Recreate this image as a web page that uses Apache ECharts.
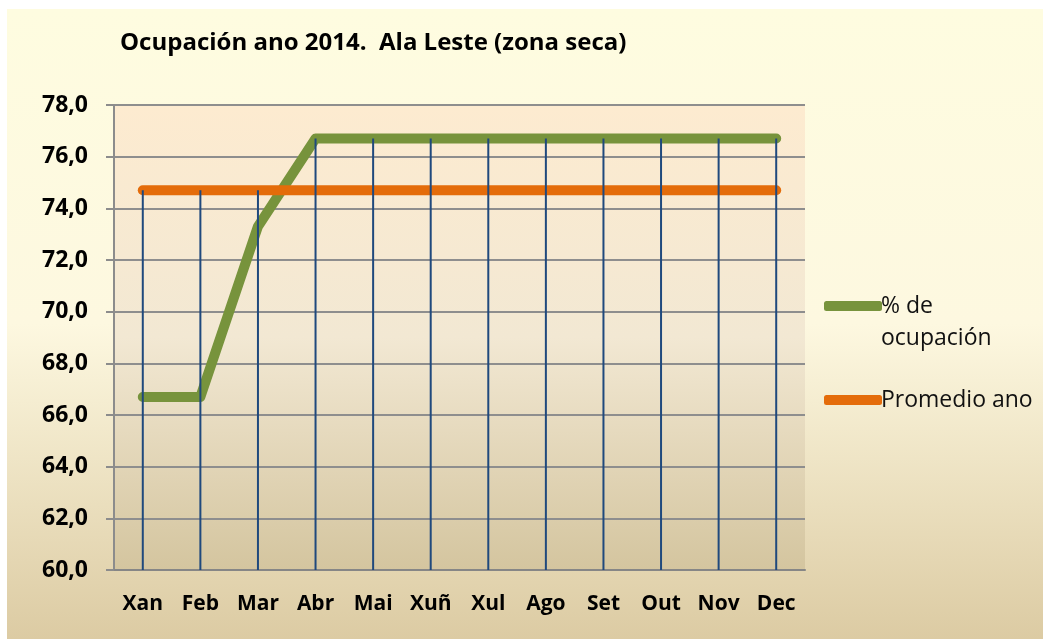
<!DOCTYPE html>
<html>
<head>
<meta charset="utf-8">
<script src="https://cdn.jsdelivr.net/npm/echarts@6/dist/echarts.min.js"></script>
<style>
  html, body { margin: 0; padding: 0; background: #ffffff; }
  #chart { width: 1043px; height: 639px; }
</style>
</head>
<body>
<div id="chart"></div>
<script>
const titleText = 'Ocupación ano 2014.  Ala Leste (zona seca)';
const months = ['Xan', 'Feb', 'Mar', 'Abr', 'Mai', 'Xuñ', 'Xul', 'Ago', 'Set', 'Out', 'Nov', 'Dec'];
const ocupacion = [66.7, 66.7, 73.3, 76.7, 76.7, 76.7, 76.7, 76.7, 76.7, 76.7, 76.7, 76.7];
const promedio = [74.7, 74.7, 74.7, 74.7, 74.7, 74.7, 74.7, 74.7, 74.7, 74.7, 74.7, 74.7];
const seriesNames = ['% de ocupación', 'Promedio ano'];
const yMin = 60, yMax = 78, yStep = 2;

// drop lines: from the highest point of each category down to the axis
const dropTop = months.map((_, i) => Math.max(ocupacion[i], promedio[i]));

const FONT = 'Open Sans';
const chart = echarts.init(document.getElementById('chart'), null, { renderer: 'canvas' });

const option = {
  backgroundColor: 'transparent',
  animation: false,
  graphic: [{
    type: 'rect',
    z: -10,
    silent: true,
    shape: { x: 7, y: 9, width: 1036, height: 630 },
    style: {
      fill: new echarts.graphic.LinearGradient(0, 0, 0, 1, [
        { offset: 0, color: '#FEFCE0' },
        { offset: 0.5, color: '#FDF8E0' },
        { offset: 1, color: '#DCCBA3' }
      ])
    }
  }],
  title: {
    text: titleText,
    left: 115,
    top: 26,
    textStyle: { fontFamily: FONT, fontWeight: 'bold', fontSize: 24, color: '#000000' }
  },
  legend: {
    orient: 'vertical',
    left: 819,
    top: 253,
    itemWidth: 58,
    itemHeight: 10,
    itemGap: 30,
    data: seriesNames.map(n => ({ name: n, icon: 'roundRect' })),
    formatter: n => n === seriesNames[0] ? '\n% de\nocupación' : n,
    textStyle: { fontFamily: FONT, fontSize: 23, color: '#111111', lineHeight: 32, padding: [0, 0, 0, -6] }
  },
  grid: {
    left: 114, right: 238, top: 105, bottom: 69,
    show: true,
    borderWidth: 0,
    backgroundColor: new echarts.graphic.LinearGradient(0, 0, 0, 1, [
      { offset: 0, color: '#FDEBD0' },
      { offset: 0.5, color: '#F2E8D3' },
      { offset: 1, color: '#D4C59F' }
    ])
  },
  xAxis: {
    type: 'category',
    data: months,
    boundaryGap: true,
    axisLine: { show: true, lineStyle: { color: '#868686', width: 2 } },
    axisTick: { show: false },
    splitLine: { show: false },
    axisLabel: { margin: 24, fontFamily: FONT, fontWeight: 'bold', fontSize: 21, color: '#000000' }
  },
  yAxis: {
    type: 'value',
    min: yMin, max: yMax, interval: yStep,
    axisLine: { show: true, lineStyle: { color: '#8C8C8C', width: 2 } },
    axisTick: { show: true, length: 8, lineStyle: { color: '#8C8C8C', width: 2 } },
    splitLine: { show: true, lineStyle: { color: '#8E8E8E', width: 2 } },
    axisLabel: {
      margin: 26,
      fontFamily: FONT, fontWeight: 'bold', fontSize: 23, color: '#000000',
      formatter: v => v.toFixed(1).replace('.', ',')
    }
  },
  series: [
    {
      name: seriesNames[0],
      type: 'line',
      data: ocupacion,
      symbol: 'none',
      z: 3,
      lineStyle: { color: '#77933C', width: 10, cap: 'round', join: 'round' },
      itemStyle: { color: '#77933C' }
    },
    {
      name: seriesNames[1],
      type: 'line',
      data: promedio,
      symbol: 'none',
      z: 3,
      lineStyle: { color: '#E46C0A', width: 10, cap: 'round', join: 'round' },
      itemStyle: { color: '#E46C0A' }
    },
    {
      name: 'drop',
      type: 'bar',
      data: dropTop,
      barWidth: 2,
      z: 5,
      itemStyle: { color: '#1F497D' },
      silent: true
    }
  ]
};
chart.setOption(option);
</script>
</body>
</html>
